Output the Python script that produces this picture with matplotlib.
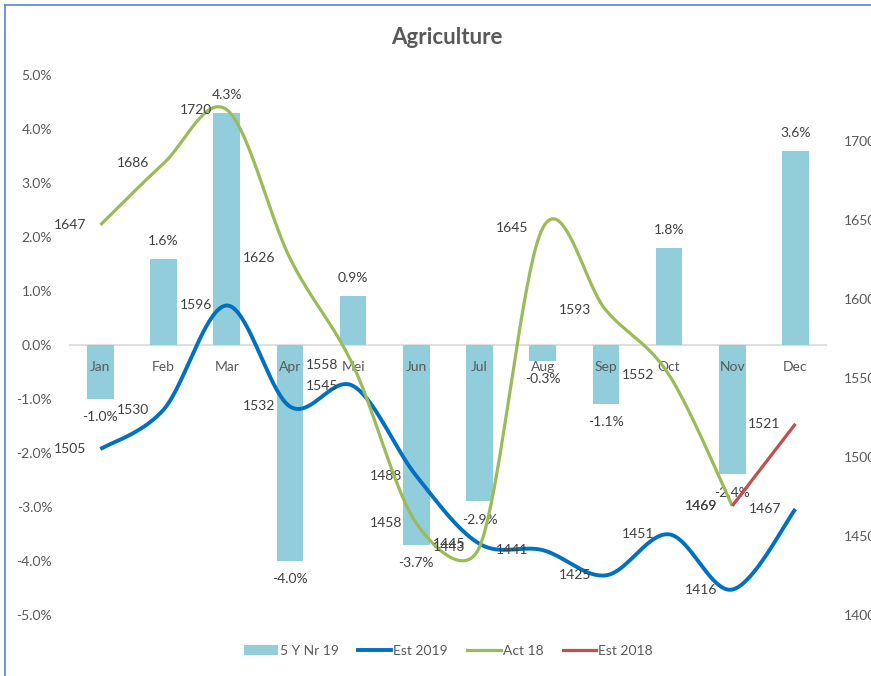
import matplotlib.pyplot as plt
import numpy as np
from matplotlib.lines import Line2D
from matplotlib.patches import Patch

plt.rcParams['font.family'] = ['Lato', 'DejaVu Sans']

months = ['Jan', 'Feb', 'Mar', 'Apr', 'Mei', 'Jun',
          'Jul', 'Aug', 'Sep', 'Oct', 'Nov', 'Dec']
five_year = [-1.0, 1.6, 4.3, -4.0, 0.9, -3.7, -2.9, -0.3, -1.1, 1.8, -2.4, 3.6]
est_2019 = [1505, 1530, 1596, 1532, 1545, 1488, 1445, 1441, 1425, 1451, 1416, 1467]
act_18 = [1647, 1686, 1720, 1626, 1558, 1458, 1443, 1645, 1593, 1552, 1469, None]
est_2018 = [None] * 10 + [1469, 1521]

BAR = '#92CDDC'
BLUE = '#0070C0'
GREEN = '#9BBB59'
RED = '#C0504D'
TXT = '#595959'
LBL = '#404040'


def excel_smooth(ax, xs, ys, steps=40):
    # Excel-like smoothed line: bezier segments built in pixel space
    pts = ax.transData.transform(np.column_stack([xs, ys]))
    n = len(pts)
    out = [pts[0]]
    t = np.linspace(0, 1, steps)[1:, None]
    for i in range(n - 1):
        p0 = pts[max(i - 1, 0)]
        p1 = pts[i]
        p2 = pts[i + 1]
        p3 = pts[min(i + 2, n - 1)]
        d12 = np.hypot(*(p2 - p1))
        d02 = np.hypot(*(p2 - p0))
        d13 = np.hypot(*(p3 - p1))
        f1 = 1 / 6 if d02 / 6 < d12 / 2 else d12 / d02 / 2
        f2 = 1 / 6 if d13 / 6 < d12 / 2 else d12 / d13 / 2
        b1 = p1 + (p2 - p0) * f1
        b2 = p2 - (p3 - p1) * f2
        seg = ((1 - t) ** 3 * p1 + 3 * (1 - t) ** 2 * t * b1
               + 3 * (1 - t) * t ** 2 * b2 + t ** 3 * p2)
        out.extend(seg)
    return ax.transData.inverted().transform(np.array(out))


fig = plt.figure(figsize=(8.71, 6.76), dpi=100)
fig.subplots_adjust(left=0.079, right=0.9495, bottom=0.0905, top=0.889)
ax = fig.add_subplot(111)
ax2 = ax.twinx()

x = np.arange(len(months))
ax.bar(x, five_year, width=0.42, color=BAR, zorder=2)
ax.axhline(0, color='#D9D9D9', lw=1.2, zorder=1)
ax.set_xlim(-0.5, len(months) - 0.5)
ax.set_ylim(-5, 5)
ax.set_yticks(np.arange(-5, 6, 1))
ax.set_yticklabels([f'{v:.1f}%' for v in np.arange(-5, 6, 1)])
ax.set_xticks([])
ax2.set_ylim(1400, 1742)
ax2.set_yticks(np.arange(1400, 1701, 50))

for a in (ax, ax2):
    for s in a.spines.values():
        s.set_visible(False)
    a.tick_params(length=0, labelsize=10, labelcolor=TXT, pad=12)

for i, m in enumerate(months):
    ax.annotate(m, (i, 0), xytext=(0, -16), textcoords='offset points',
                ha='center', va='center', fontsize=10, color=TXT, zorder=3)

for i, v in enumerate(five_year):
    ax.annotate(f'{v:.1f}%', (i, v), xytext=(0, 13 if v > 0 else -13),
                textcoords='offset points', ha='center', va='center',
                fontsize=10, color=LBL)

series = [(est_2019, BLUE, 2.8), (act_18, GREEN, 2.3), (est_2018, RED, 2.3)]
for vals, col, lw in series:
    xs = [i for i, v in enumerate(vals) if v is not None]
    ys = [v for v in vals if v is not None]
    curve = excel_smooth(ax2, xs, ys)
    ax2.plot(curve[:, 0], curve[:, 1], color=col, lw=lw,
             solid_capstyle='butt', zorder=3)
    for xi, yi in zip(xs, ys):
        ax2.annotate(str(yi), (xi, yi), xytext=(-10.5, 0),
                     textcoords='offset points', ha='right', va='center',
                     fontsize=10, color=LBL)

fig.text(0.513, 1 - 38 / 676, 'Agriculture', ha='center', va='center',
         fontsize=16, fontweight='bold', color=TXT)

handles = [Patch(facecolor=BAR),
           Line2D([], [], color=BLUE, lw=2.8),
           Line2D([], [], color=GREEN, lw=2.3),
           Line2D([], [], color=RED, lw=2.3)]
fig.legend(handles, ['5 Y Nr 19', 'Est 2019', 'Act 18', 'Est 2018'],
           loc='center', bbox_to_anchor=(0.515, 0.037), ncol=4,
           frameon=False, fontsize=10, labelcolor=TXT, handlelength=2.4,
           handletextpad=0.15, columnspacing=1.4)

# chart border visible on the left and top of the screenshot
fig.add_artist(Line2D([5 / 871, 5 / 871], [0, 1 - 5 / 676],
                      color='#5B86C5', lw=1.2, transform=fig.transFigure))
fig.add_artist(Line2D([5 / 871, 1], [1 - 5 / 676, 1 - 5 / 676],
                      color='#5B86C5', lw=1.2, transform=fig.transFigure))

fig.savefig('out.png', dpi=100)
